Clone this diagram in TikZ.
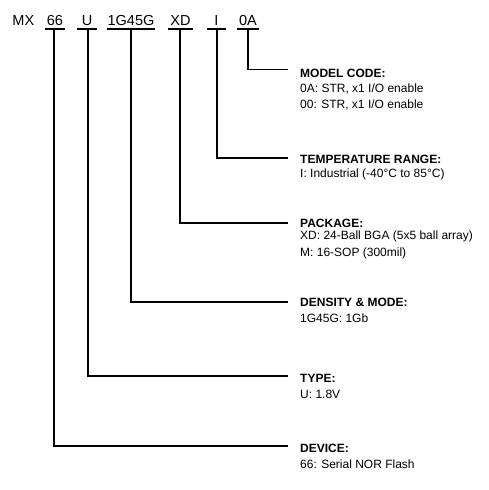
\documentclass[tikz,border=0pt]{standalone}
\usepackage{fontspec}
\setmainfont{Liberation Sans}
\begin{document}
\begin{tikzpicture}[x=1pt,y=-1pt,
  code/.style={inner sep=0pt,anchor=base,font=\fontsize{14.5}{17}\selectfont},
  ttl/.style={inner sep=0pt,anchor=base west,font=\fontsize{12}{14}\selectfont\bfseries},
  txt/.style={inner sep=0pt,anchor=base west,font=\fontsize{12}{14}\selectfont},
  ln/.style={line width=1.2pt,black}]
\useasboundingbox (0,0) rectangle (488,490);
% top row
\node[code,anchor=base west] (mx) at (12.3,25.7) {MX};
\node[code] (k66) at (55,25.7) {66};
\node[code] (kU) at (87,25.7) {U};
\node[code] (kD) at (131,25.7) {1G45G};
\node[code] (kXD) at (180.5,25.7) {XD};
\node[code] (kI) at (216.5,25.7) {I};
\node[code] (kA) at (248,25.7) {0A};
% underlines
\draw[ln] (45,29) -- (65,29);
\draw[ln] (77,29) -- (97,29);
\draw[ln] (107,29) -- (155,29);
\draw[ln] (168,29) -- (193,29);
\draw[ln] (207,29) -- (226,29);
\draw[ln] (237,29) -- (259,29);
\coordinate (s66) at (54,29);
\coordinate (sU) at (88,29);
\coordinate (sD) at (131,29);
\coordinate (sXD) at (180,29);
\coordinate (sI) at (217,29);
\coordinate (sA) at (248,29);
% labels
\node[ttl] (tA) at (300,77) {MODEL CODE:};
\node[txt] (tA1) at (300,92) {0A: STR, x1 I/O enable};
\node[txt] (tA2) at (300,108) {00: STR, x1 I/O enable};
\node[ttl] (tI) at (300,163.5) {TEMPERATURE RANGE:};
\node[txt] (tI1) at (300,177) {I: Industrial (-40°C to 85°C)};
\node[ttl] (tXD) at (300,227) {PACKAGE:};
\node[txt] (tXD1) at (300,239) {XD: 24-Ball BGA (5x5 ball array)};
\node[txt] (tXD2) at (300,256) {M: 16-SOP (300mil)};
\node[ttl] (tD) at (300,306) {DENSITY \& MODE:};
\node[txt] (tD1) at (300,322) {1G45G: 1Gb};
\node[ttl] (tU) at (300,382) {TYPE:};
\node[txt] (tU1) at (300,398) {U: 1.8V};
\node[ttl] (t66) at (300,452) {DEVICE:};
\node[txt] (t661) at (300,468) {66: Serial NOR Flash};
% connector ends
\coordinate (eA) at (288,69.5);
\coordinate (eI) at (288,158);
\coordinate (eXD) at (288,223);
\coordinate (eD) at (288,302);
\coordinate (eU) at (288,376);
\coordinate (e66) at (288,446);
\draw[ln] (sA) |- (eA);
\draw[ln] (sI) |- (eI);
\draw[ln] (sXD) |- (eXD);
\draw[ln] (sD) |- (eD);
\draw[ln] (sU) |- (eU);
\draw[ln] (s66) |- (e66);
\end{tikzpicture}
\end{document}
